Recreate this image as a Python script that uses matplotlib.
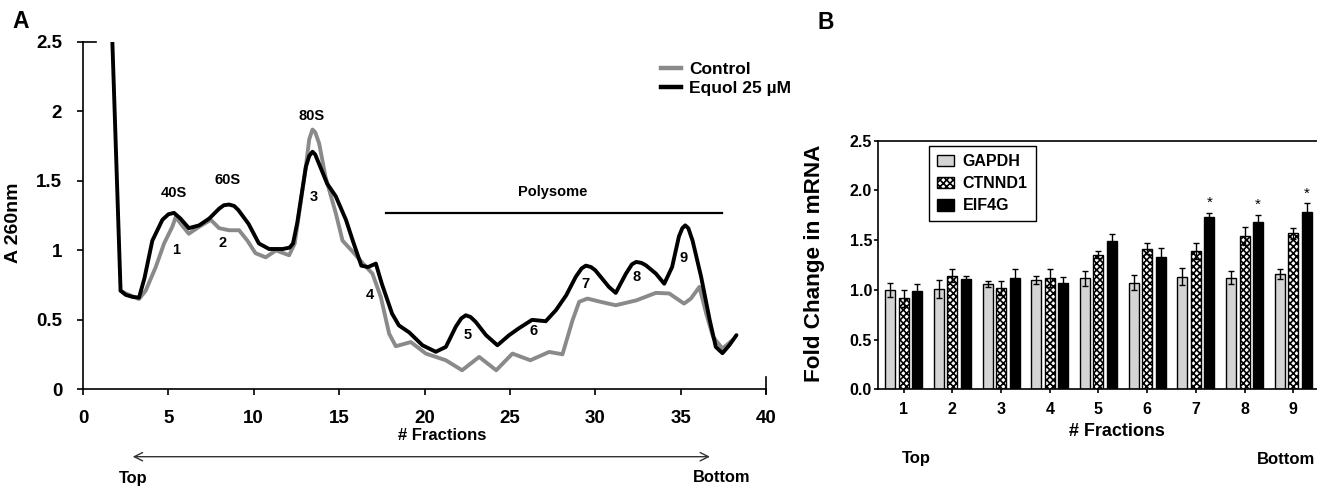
import matplotlib
matplotlib.use("Agg")
import matplotlib.pyplot as plt
from matplotlib.patches import Patch
from matplotlib.lines import Line2D
import numpy as np

plt.rcParams['font.family'] = ['Liberation Sans', 'DejaVu Sans']
plt.rcParams['font.weight'] = 'bold'
plt.rcParams['hatch.linewidth'] = 1.2

# ---------------- Panel A data (polysome profile) ----------------
equol_x = [1.72, 2.2, 2.5, 2.9, 3.28, 3.6, 4.06, 4.65, 5.0, 5.33, 5.7, 6.2, 6.8, 7.4, 7.97, 8.25,
           8.55, 8.85, 9.1, 9.7, 10.3, 10.9, 11.7, 12.1, 12.3, 12.55, 12.75, 13.05, 13.25, 13.44,
           13.6, 13.8, 14.3, 14.8, 15.4, 15.8, 16.3, 16.7, 17.15, 17.5, 18.1, 18.5, 19.1, 19.88,
           20.66, 21.25, 21.83, 22.15, 22.42, 22.7, 23.0, 23.6, 24.27, 24.96, 25.5, 26.3, 27.1,
           27.7, 28.3, 28.86, 29.2, 29.45, 29.75, 30.0, 30.8, 31.2, 31.8, 32.15, 32.4, 32.7, 32.96,
           33.55, 34.04, 34.5, 34.9, 35.1, 35.27, 35.45, 35.7, 36.2, 36.7, 37.06, 37.45, 37.85, 38.27]
equol_y = [2.5, 0.71, 0.68, 0.665, 0.66, 0.80, 1.07, 1.22, 1.26, 1.27, 1.23, 1.16, 1.18, 1.23, 1.30, 1.325,
           1.33, 1.32, 1.29, 1.19, 1.05, 1.01, 1.01, 1.02, 1.05, 1.20, 1.36, 1.60, 1.68, 1.71,
           1.69, 1.63, 1.48, 1.39, 1.22, 1.07, 0.89, 0.88, 0.905, 0.76, 0.545, 0.46, 0.41, 0.317,
           0.27, 0.305, 0.45, 0.51, 0.533, 0.52, 0.485, 0.39, 0.317, 0.39, 0.437, 0.50, 0.49,
           0.57, 0.677, 0.81, 0.87, 0.89, 0.88, 0.857, 0.737, 0.694, 0.833, 0.90, 0.917, 0.91, 0.893,
           0.833, 0.76, 0.88, 1.10, 1.16, 1.18, 1.16, 1.07, 0.81, 0.50, 0.305, 0.26, 0.317, 0.39]

control_x = [2.2, 2.5, 2.9, 3.28, 3.67, 4.26, 4.75, 5.23, 5.43, 5.8, 6.2, 6.8, 7.48, 7.97, 8.55, 9.14,
             9.63, 10.1, 10.7, 11.3, 12.07, 12.4, 12.66, 13.05, 13.25, 13.44, 13.6, 13.83, 14.2,
             14.8, 15.2, 15.8, 16.4, 16.95, 17.44, 17.93, 18.32, 19.2, 20.08, 21.25, 22.2, 23.2,
             24.2, 25.15, 26.2, 27.3, 28.08, 28.67, 29.06, 29.54, 30.3, 31.2, 32.4, 33.55, 34.33,
             35.2, 35.6, 36.1, 36.5, 36.9, 37.45, 38.03]
control_y = [0.71, 0.69, 0.67, 0.65, 0.71, 0.88, 1.05, 1.17, 1.24, 1.18, 1.12, 1.17, 1.22, 1.16, 1.145, 1.145,
             1.07, 0.98, 0.95, 1.0, 0.965, 1.05, 1.27, 1.60, 1.80, 1.87, 1.85, 1.77, 1.53,
             1.27, 1.07, 0.99, 0.905, 0.833, 0.665, 0.40, 0.31, 0.34, 0.257, 0.209, 0.137, 0.233,
             0.137, 0.257, 0.209, 0.269, 0.252, 0.497, 0.63, 0.653, 0.63, 0.605, 0.64, 0.694, 0.69,
             0.617, 0.653, 0.737, 0.545, 0.377, 0.293, 0.353]

peak_labels = ['40S', '60S', '80S']
peak_label_x = [5.33, 8.46, 13.4]
peak_label_y = [1.41, 1.506, 1.967]
fraction_labels = ['1', '2', '3', '4', '5', '6', '7', '8', '9']
fraction_label_x = [5.43, 8.2, 13.53, 16.8, 22.5, 26.36, 29.45, 32.4, 35.15]
fraction_label_y = [1.0, 1.054, 1.386, 0.677, 0.389, 0.42, 0.76, 0.81, 0.946]
polysome_x = [17.77, 37.45]
polysome_y = 1.27

a_xticks = [0, 5, 10, 15, 20, 25, 30, 35, 40]
a_yticks = [0, 0.5, 1, 1.5, 2, 2.5]
a_yticklabels = ['0', '0.5', '1', '1.5', '2', '2.5']

# ---------------- Panel B data (qPCR) ----------------
fractions = [1, 2, 3, 4, 5, 6, 7, 8, 9]
gapdh = [0.999, 1.009, 1.059, 1.099, 1.116, 1.072, 1.133, 1.123, 1.16]
gapdh_err = [0.066, 0.09, 0.034, 0.04, 0.074, 0.077, 0.084, 0.067, 0.047]
ctnnd1 = [0.915, 1.143, 1.022, 1.119, 1.354, 1.414, 1.394, 1.542, 1.568]
ctnnd1_err = [0.083, 0.064, 0.07, 0.09, 0.037, 0.054, 0.08, 0.087, 0.057]
eif4g = [0.992, 1.106, 1.119, 1.066, 1.488, 1.327, 1.733, 1.686, 1.783]
eif4g_err = [0.064, 0.034, 0.094, 0.06, 0.07, 0.09, 0.044, 0.067, 0.087]
signif = [False, False, False, False, False, False, True, True, True]
b_yticks = [0.0, 0.5, 1.0, 1.5, 2.0, 2.5]

W, H = 1317, 487
fig = plt.figure(figsize=(W / 100, H / 100), dpi=100)

def fx(px):
    return px / W

def fy(py):
    return 1 - py / H

# ---------------- Panel A ----------------
axA = fig.add_axes([fx(83), fy(389.3), fx(766 - 83), (389.3 - 42) / H])
axA.plot(control_x, control_y, color='#8a8a8a', lw=2.8, solid_joinstyle='round',
         solid_capstyle='round')
axA.plot(equol_x, equol_y, color='black', lw=2.8, solid_joinstyle='round',
         solid_capstyle='round')
axA.set_xlim(0, 40)
axA.set_ylim(0, 2.5)
for s in ['top', 'right']:
    axA.spines[s].set_visible(False)
for s in ['left', 'bottom']:
    axA.spines[s].set_linewidth(1.2)
axA.set_xticks(a_xticks)
axA.set_yticks(a_yticks)
axA.set_yticklabels(a_yticklabels)
axA.tick_params(axis='x', direction='out', length=4, width=1.2, pad=11, labelsize=13.5)
axA.tick_params(axis='y', direction='out', length=4, width=1.2, pad=11, labelsize=13.5)
for lab in axA.get_xticklabels() + axA.get_yticklabels():
    lab.set_fontweight('bold')
axA.axvline(40, ymin=-0.012, ymax=0.036, color='black', lw=1.2, clip_on=False)
axA.plot([0, 0.75], [2.5, 2.5], color='black', lw=1.2, clip_on=False)

axA.set_ylabel('A 260nm', fontsize=14, fontweight='bold')
axA.yaxis.set_label_coords(-0.09, 0.48)

for t, x, y in zip(peak_labels, peak_label_x, peak_label_y):
    axA.text(x, y, t, ha='center', va='center', fontsize=10.5, fontweight='bold')
for t, x, y in zip(fraction_labels, fraction_label_x, fraction_label_y):
    axA.text(x, y, t, ha='center', va='center', fontsize=10.5, fontweight='bold')
axA.plot(polysome_x, [polysome_y, polysome_y], color='black', lw=1.6)
axA.text(27.5, 1.42, 'Polysome', ha='center', va='center', fontsize=10.5, fontweight='bold')

handlesA = [Line2D([], [], color='#8a8a8a', lw=3.2), Line2D([], [], color='black', lw=3.2)]
legA = axA.legend(handlesA, ['Control', 'Equol 25 \u00b5M'], loc='upper left',
                  bbox_to_anchor=(fx(661), fy(62)), bbox_transform=fig.transFigure,
                  frameon=False, handlelength=1.15, handletextpad=0.45,
                  borderpad=0, borderaxespad=0, labelspacing=0.2,
                  prop={'size': 12.5, 'weight': 'bold'})

fig.text(fx(442.5), fy(435.5), '# Fractions', ha='center', va='center', fontsize=12,
         fontweight='bold')
fig.text(fx(20.5), fy(21.7), 'A', ha='center', va='center', fontsize=16.5, fontweight='bold')
fig.text(fx(133.3), fy(478), 'Top', ha='center', va='center', fontsize=11.8, fontweight='bold')
fig.text(fx(721.7), fy(477), 'Bottom', ha='center', va='center', fontsize=11.8, fontweight='bold')
fig.add_artist(matplotlib.patches.FancyArrowPatch(
    (fx(132.7), fy(456.7)), (fx(710), fy(456.7)), transform=fig.transFigure,
    arrowstyle='<->,head_length=6,head_width=3', color='#333333', lw=1.0,
    shrinkA=0, shrinkB=0))

# ---------------- Panel B ----------------
axB = fig.add_axes([fx(878.3), fy(389.3), 1 - fx(878.3), (389.3 - 140.7) / H])
xs = np.array(fractions, dtype=float)
off = 0.277
bw = 0.205
ek = dict(ecolor='black', elinewidth=1.0, capsize=2.5, capthick=1.0)
axB.bar(xs - off, gapdh, bw, yerr=gapdh_err, color='#d4d4d4', edgecolor='black', lw=1.0,
        error_kw=ek, label='GAPDH')
axB.bar(xs, ctnnd1, bw, yerr=ctnnd1_err, color='white', edgecolor='black', lw=1.0,
        hatch='xxxxx', error_kw=ek, label='CTNND1')
axB.bar(xs + off, eif4g, bw, yerr=eif4g_err, color='black', edgecolor='black', lw=1.0,
        error_kw=ek, label='EIF4G')
for x, v, e, s in zip(xs, eif4g, eif4g_err, signif):
    if s:
        axB.text(x + off, v + e + 0.03, '*', ha='center', va='bottom', fontsize=11,
                 fontweight='normal')
axB.set_xlim(0.48, 9.486)
axB.set_ylim(0, 2.5)
axB.spines['right'].set_visible(False)
for s in ['left', 'bottom', 'top']:
    axB.spines[s].set_linewidth(1.2)
axB.set_xticks(fractions)
axB.set_yticks(b_yticks)
axB.set_yticklabels(['%.1f' % v for v in b_yticks])
axB.tick_params(axis='both', direction='out', length=3, width=1.2, labelsize=11.5)
axB.tick_params(axis='y', pad=1.5)
axB.tick_params(axis='x', pad=6)
for lab in axB.get_xticklabels() + axB.get_yticklabels():
    lab.set_fontweight('bold')
axB.set_ylabel('Fold Change in mRNA', fontsize=16.2, fontweight='bold')
axB.yaxis.set_label_coords(-0.121, 0.507)

handlesB = [Patch(facecolor='#d4d4d4', edgecolor='black', lw=1.0),
            Patch(facecolor='white', edgecolor='black', hatch='xxxxx', lw=1.0),
            Patch(facecolor='black', edgecolor='black', lw=1.0)]
legB = axB.legend(handlesB, ['GAPDH', 'CTNND1', 'EIF4G'], loc='upper left',
                  bbox_to_anchor=(fx(929.3), fy(146)), bbox_transform=fig.transFigure,
                  frameon=True, fancybox=False, edgecolor='black', framealpha=1,
                  handlelength=1.05, handleheight=0.75, handletextpad=0.55,
                  borderpad=0.5, borderaxespad=0, labelspacing=0.45,
                  prop={'size': 11.5, 'weight': 'bold'})
legB.get_frame().set_linewidth(1.0)

fig.text(fx(1116.7), fy(431.7), '# Fractions', ha='center', va='center', fontsize=13,
         fontweight='bold')
fig.text(fx(825.5), fy(22.5), 'B', ha='center', va='center', fontsize=16.5, fontweight='bold')
fig.text(fx(916), fy(459), 'Top', ha='center', va='center', fontsize=12, fontweight='bold')
fig.text(fx(1286), fy(459), 'Bottom', ha='center', va='center', fontsize=12, fontweight='bold')

fig.savefig('out.png', dpi=100)
